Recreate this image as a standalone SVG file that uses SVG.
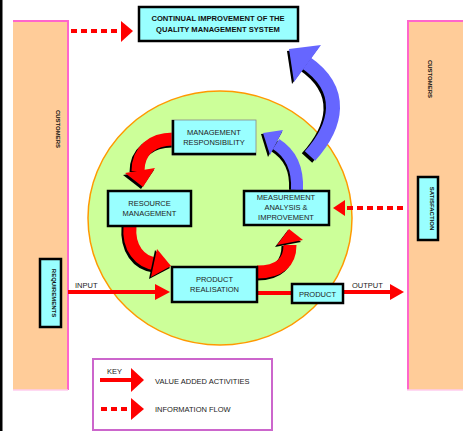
<svg xmlns="http://www.w3.org/2000/svg" width="467" height="431" viewBox="0 0 467 431">
<defs>
<style>
.t{font-family:"Liberation Sans",Arial,sans-serif;font-size:7.5px;fill:#222;text-anchor:middle}
.tb{font-family:"Liberation Sans",Arial,sans-serif;font-size:7.6px;font-weight:bold;fill:#111;text-anchor:middle}
.lbl{font-family:"Liberation Sans",Arial,sans-serif;font-size:7.5px;fill:#222}
.box{fill:#99FFFF;stroke:#000;stroke-width:2.5}
.vt{font-family:"Liberation Sans",Arial,sans-serif;font-size:6px;font-weight:bold;fill:#111;text-anchor:middle}
.red{fill:none;stroke:#FF0000;stroke-width:13}
.redsh{fill:none;stroke:#000;stroke-width:13}
.blue{fill:none;stroke:#6666FF;stroke-width:12}
.bluesh{fill:none;stroke:#000;stroke-width:12}
.solid{stroke:#FF0000;stroke-width:4}
.dot{stroke:#FF0000;stroke-width:4;stroke-dasharray:6,4}
</style>
</defs>
<rect width="467" height="431" fill="#fff"/>
<line x1="1" y1="0" x2="1" y2="431" stroke="#000" stroke-width="3"/>

<g id="left-panel">
<rect x="13" y="20" width="55" height="370" fill="#FFCC99"/>
<polyline points="13,21 68,21 68,390" fill="none" stroke="#FF66CC" stroke-width="2"/>
<line x1="13" y1="390" x2="68" y2="390" stroke="#FFCCEE" stroke-width="1.5"/>
<text class="vt" transform="translate(56,129) rotate(90)">CUSTOMERS</text>
</g>
<g id="right-panel">
<rect x="407" y="20" width="56" height="370" fill="#FFCC99"/>
<polyline points="408,390 408,21 463,21" fill="none" stroke="#FF66CC" stroke-width="2"/>
<line x1="407" y1="390" x2="463" y2="390" stroke="#FFCCEE" stroke-width="1.5"/>
<text class="vt" transform="translate(428,79) rotate(90)">CUSTOMERS</text>
</g>

<g id="circle">
<ellipse cx="220" cy="218" rx="132" ry="127" fill="#CCFF99" stroke="#FF9900" stroke-width="1.5"/>
</g>

<g id="connectors">
<!-- red curved arrows -->
<path class="redsh" d="M172,141 C150,141 136,153 136,172"/>
<path class="red" d="M173,139 C152,139 138,151 138,171"/>
<polygon points="123,175 154,170 141,189" fill="#000"/>
<polygon points="125,173 155,168 143,187" fill="#FF0000"/>

<path class="redsh" d="M128,226 C126,250 138,264 154,266"/>
<path class="red" d="M130,226 C128,248 140,262 156,264"/>
<polygon points="155,250 170,268 149,279" fill="#000"/>
<polygon points="157,249 171,266 151,277" fill="#FF0000"/>

<path class="redsh" d="M257,274 C278,274 288,264 288,246"/>
<path class="red" d="M257,272 C280,272 290,262 290,245"/>
<polygon points="275,247 288,230 301,242" fill="#000"/>
<polygon points="277,245 289,229 303,240" fill="#FF0000"/>

<!-- blue arrows -->
<path class="bluesh" d="M295,190 C296,170 290,156 274,146"/>
<path class="blue" d="M297,190 C298,169 292,154 276,144"/>
<polygon points="261,134 282,132 268,157" fill="#000"/>
<polygon points="263,133 283,130 270,155" fill="#6666FF"/>

<path class="bluesh" d="M307,158 C334,128 344,92 303,64" style="stroke-width:14"/>
<path class="blue" d="M310,156 C337,126 346,90 305,62" style="stroke-width:14"/>
<polygon points="287,51 319,47 292,84" fill="#000"/>
<polygon points="289,49 321,45 294,82" fill="#6666FF"/>

<!-- flows -->
<line class="solid" x1="68" y1="292" x2="157" y2="292"/>
<polygon points="155,284 170,292 155,300" fill="#FF0000"/>
<line class="solid" x1="257" y1="293" x2="292" y2="293"/>
<line class="solid" x1="343" y1="292" x2="392" y2="292"/>
<polygon points="390,284 404,292 390,300" fill="#FF0000"/>

<line class="dot" x1="71" y1="31" x2="122" y2="31"/>
<polygon points="121,21 133,31 121,42" fill="#FF0000"/>

<line class="dot" x1="403" y1="208" x2="344" y2="208"/>
<polygon points="345,200 333,208 345,216" fill="#FF0000"/>

<text class="lbl" x="75" y="288">INPUT</text>
<text class="lbl" x="352" y="288">OUTPUT</text>
</g>

<g id="top-box">
<rect class="box" x="139" y="7" width="159" height="34"/>
<text class="tb" x="218" y="21">CONTINUAL IMPROVEMENT OF THE</text>
<text class="tb" x="218" y="32">QUALITY MANAGEMENT SYSTEM</text>
</g>

<g id="management-responsibility">
<rect x="172" y="120" width="84" height="35" fill="#99FFFF" stroke="#888" stroke-width="0.8"/>
<polyline points="173,120 173,154 256,154" fill="none" stroke="#000" stroke-width="2.5"/>
<text class="t" x="214" y="135">MANAGEMENT</text>
<text class="t" x="214" y="145">RESPONSIBILITY</text>
</g>

<g id="resource-management">
<rect class="box" x="108" y="191" width="83" height="35"/>
<text class="t" x="149.5" y="206">RESOURCE</text>
<text class="t" x="149.5" y="216">MANAGEMENT</text>
</g>

<g id="measurement">
<rect class="box" x="244" y="191" width="85" height="34"/>
<text class="t" x="286" y="200">MEASUREMENT</text>
<text class="t" x="286" y="210">ANALYSIS &amp;</text>
<text class="t" x="286" y="220">IMPROVEMENT</text>
</g>

<g id="product-realisation">
<rect class="box" x="172" y="267" width="85" height="35"/>
<text class="t" x="214.5" y="282">PRODUCT</text>
<text class="t" x="214.5" y="292">REALISATION</text>
</g>

<g id="product">
<rect class="box" x="292" y="284" width="51" height="19"/>
<text class="t" x="317.5" y="296.5">PRODUCT</text>
</g>

<g id="requirements">
<rect class="box" x="40" y="259" width="21" height="68"/>
<text class="vt" transform="translate(52,293) rotate(90)">REQUIREMENTS</text>
</g>

<g id="satisfaction">
<rect class="box" x="418" y="177" width="20" height="63"/>
<text class="vt" transform="translate(430,208.5) rotate(90)">SATISFACTION</text>
</g>

<g id="key">
<rect x="93" y="359" width="179" height="71" fill="#fff" stroke="#CC66CC" stroke-width="2"/>
<text class="lbl" x="107" y="374">KEY</text>
<line class="solid" x1="100" y1="380" x2="133" y2="380"/>
<polygon points="131,368 144,380 131,392" fill="#FF0000"/>
<text class="lbl" x="155" y="384">VALUE ADDED ACTIVITIES</text>
<line class="dot" x1="101" y1="409" x2="132" y2="409"/>
<polygon points="131,398 144,409 131,420" fill="#FF0000"/>
<text class="lbl" x="155" y="412">INFORMATION FLOW</text>
</g>
</svg>
